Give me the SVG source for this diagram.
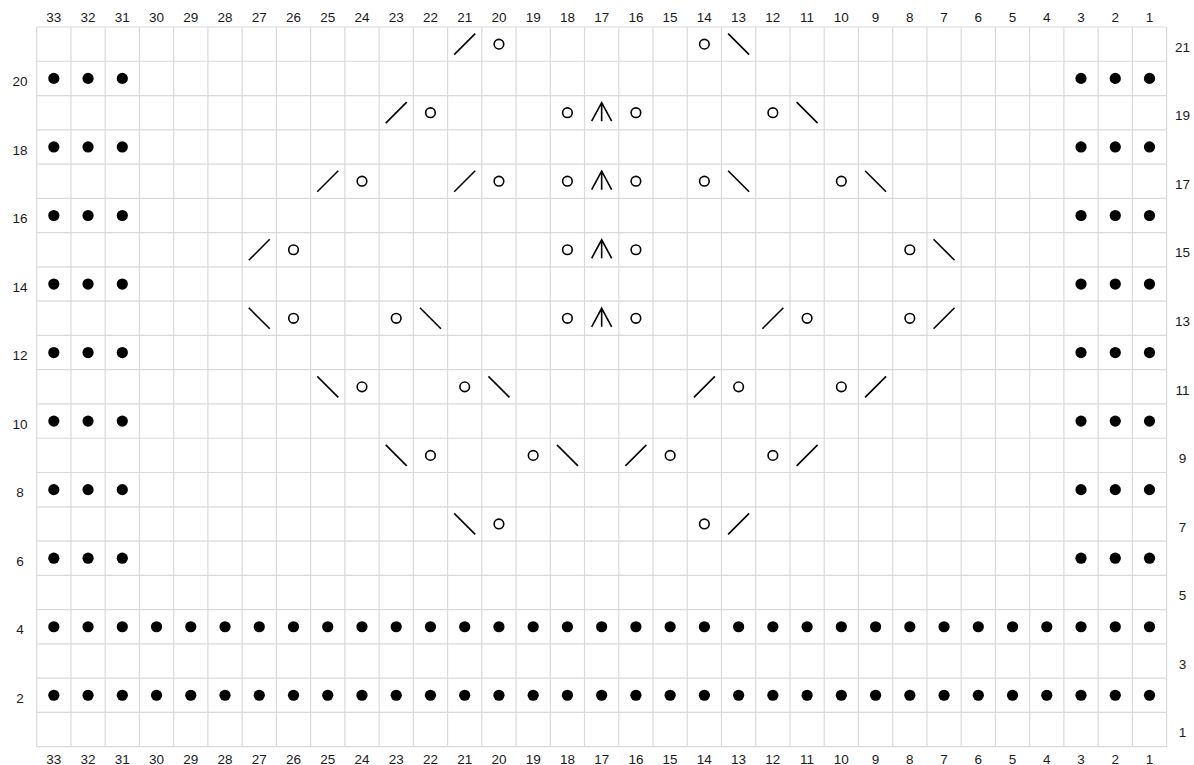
<svg xmlns="http://www.w3.org/2000/svg" xmlns:xlink="http://www.w3.org/1999/xlink" width="1194" height="765" viewBox="0 0 1194 765">
<style>
.grid{fill:none;stroke:#dadada;stroke-width:1.2}
.lbl{font-family:"Liberation Sans",Arial,sans-serif;font-size:13.5px;fill:#1a1a1a;text-anchor:middle}
.sym{fill:none;stroke:#000;stroke-width:1.6;stroke-linecap:butt}
.dot{fill:#000}
</style>
<defs>
<circle id="dot" class="dot" cx="0" cy="0" r="5.6"/>
<circle id="yo" class="sym" cx="0" cy="0" r="4.8"/>
<line id="k2tog" class="sym" x1="-10.5" y1="10.5" x2="10.5" y2="-10.5"/>
<line id="ssk" class="sym" x1="-10.5" y1="-10.5" x2="10.5" y2="10.5"/>
<path id="cdd" class="sym" d="M-10 8.5L0 -10L10 8.5M0 -10V8.5"/>
<g id="sides">
<use href="#dot" x="53.82"/><use href="#dot" x="88.06"/><use href="#dot" x="122.30"/>
<use href="#dot" x="1081.02"/><use href="#dot" x="1115.26"/><use href="#dot" x="1149.50"/>
</g>
<g id="fullrow">
<use href="#dot" x="53.82"/><use href="#dot" x="88.06"/><use href="#dot" x="122.30"/><use href="#dot" x="156.54"/><use href="#dot" x="190.78"/><use href="#dot" x="225.02"/><use href="#dot" x="259.26"/><use href="#dot" x="293.50"/><use href="#dot" x="327.74"/><use href="#dot" x="361.98"/><use href="#dot" x="396.22"/><use href="#dot" x="430.46"/><use href="#dot" x="464.70"/><use href="#dot" x="498.94"/><use href="#dot" x="533.18"/><use href="#dot" x="567.42"/><use href="#dot" x="601.66"/><use href="#dot" x="635.90"/><use href="#dot" x="670.14"/><use href="#dot" x="704.38"/><use href="#dot" x="738.62"/><use href="#dot" x="772.86"/><use href="#dot" x="807.10"/><use href="#dot" x="841.34"/><use href="#dot" x="875.58"/><use href="#dot" x="909.82"/><use href="#dot" x="944.06"/><use href="#dot" x="978.30"/><use href="#dot" x="1012.54"/><use href="#dot" x="1046.78"/><use href="#dot" x="1081.02"/><use href="#dot" x="1115.26"/><use href="#dot" x="1149.50"/>
</g>
</defs>
<rect width="1194" height="765" fill="#fff"/>
<g id="grid">
<path class="grid" d="M36.7 27V746.67M70.94 27V746.67M105.18 27V746.67M139.42 27V746.67M173.66 27V746.67M207.9 27V746.67M242.14 27V746.67M276.38 27V746.67M310.62 27V746.67M344.86 27V746.67M379.1 27V746.67M413.34 27V746.67M447.58 27V746.67M481.82 27V746.67M516.06 27V746.67M550.3 27V746.67M584.54 27V746.67M618.78 27V746.67M653.02 27V746.67M687.26 27V746.67M721.5 27V746.67M755.74 27V746.67M789.98 27V746.67M824.22 27V746.67M858.46 27V746.67M892.7 27V746.67M926.94 27V746.67M961.18 27V746.67M995.42 27V746.67M1029.66 27V746.67M1063.9 27V746.67M1098.14 27V746.67M1132.38 27V746.67M1166.62 27V746.67"/>
<path class="grid" d="M36.7 27H1166.62M36.7 61.27H1166.62M36.7 95.54H1166.62M36.7 129.81H1166.62M36.7 164.08H1166.62M36.7 198.35H1166.62M36.7 232.62H1166.62M36.7 266.89H1166.62M36.7 301.16H1166.62M36.7 335.43H1166.62M36.7 369.7H1166.62M36.7 403.97H1166.62M36.7 438.24H1166.62M36.7 472.51H1166.62M36.7 506.78H1166.62M36.7 541.05H1166.62M36.7 575.32H1166.62M36.7 609.59H1166.62M36.7 643.86H1166.62M36.7 678.13H1166.62M36.7 712.4H1166.62M36.7 746.67H1166.62"/>
</g>
<g id="col-labels-top" class="lbl">
<text x="53.82" y="21.5">33</text><text x="88.06" y="21.5">32</text><text x="122.30" y="21.5">31</text><text x="156.54" y="21.5">30</text><text x="190.78" y="21.5">29</text><text x="225.02" y="21.5">28</text><text x="259.26" y="21.5">27</text><text x="293.50" y="21.5">26</text><text x="327.74" y="21.5">25</text><text x="361.98" y="21.5">24</text><text x="396.22" y="21.5">23</text><text x="430.46" y="21.5">22</text><text x="464.70" y="21.5">21</text><text x="498.94" y="21.5">20</text><text x="533.18" y="21.5">19</text><text x="567.42" y="21.5">18</text><text x="601.66" y="21.5">17</text><text x="635.90" y="21.5">16</text><text x="670.14" y="21.5">15</text><text x="704.38" y="21.5">14</text><text x="738.62" y="21.5">13</text><text x="772.86" y="21.5">12</text><text x="807.10" y="21.5">11</text><text x="841.34" y="21.5">10</text><text x="875.58" y="21.5">9</text><text x="909.82" y="21.5">8</text><text x="944.06" y="21.5">7</text><text x="978.30" y="21.5">6</text><text x="1012.54" y="21.5">5</text><text x="1046.78" y="21.5">4</text><text x="1081.02" y="21.5">3</text><text x="1115.26" y="21.5">2</text><text x="1149.50" y="21.5">1</text>
</g>
<g id="col-labels-bottom" class="lbl">
<text x="53.82" y="763.5">33</text><text x="88.06" y="763.5">32</text><text x="122.30" y="763.5">31</text><text x="156.54" y="763.5">30</text><text x="190.78" y="763.5">29</text><text x="225.02" y="763.5">28</text><text x="259.26" y="763.5">27</text><text x="293.50" y="763.5">26</text><text x="327.74" y="763.5">25</text><text x="361.98" y="763.5">24</text><text x="396.22" y="763.5">23</text><text x="430.46" y="763.5">22</text><text x="464.70" y="763.5">21</text><text x="498.94" y="763.5">20</text><text x="533.18" y="763.5">19</text><text x="567.42" y="763.5">18</text><text x="601.66" y="763.5">17</text><text x="635.90" y="763.5">16</text><text x="670.14" y="763.5">15</text><text x="704.38" y="763.5">14</text><text x="738.62" y="763.5">13</text><text x="772.86" y="763.5">12</text><text x="807.10" y="763.5">11</text><text x="841.34" y="763.5">10</text><text x="875.58" y="763.5">9</text><text x="909.82" y="763.5">8</text><text x="944.06" y="763.5">7</text><text x="978.30" y="763.5">6</text><text x="1012.54" y="763.5">5</text><text x="1046.78" y="763.5">4</text><text x="1081.02" y="763.5">3</text><text x="1115.26" y="763.5">2</text><text x="1149.50" y="763.5">1</text>
</g>
<g id="row-labels-left" class="lbl">
<text x="20" y="86.11">20</text><text x="20" y="154.65">18</text><text x="20" y="223.19">16</text><text x="20" y="291.73">14</text><text x="20" y="360.27">12</text><text x="20" y="428.81">10</text><text x="20" y="497.35">8</text><text x="20" y="565.89">6</text><text x="20" y="634.43">4</text><text x="20" y="702.97">2</text>
</g>
<g id="row-labels-right" class="lbl">
<text x="1182.5" y="51.84">21</text><text x="1182.5" y="120.38">19</text><text x="1182.5" y="188.92">17</text><text x="1182.5" y="257.46">15</text><text x="1182.5" y="326.0">13</text><text x="1182.5" y="394.54">11</text><text x="1182.5" y="463.08">9</text><text x="1182.5" y="531.62">7</text><text x="1182.5" y="600.16">5</text><text x="1182.5" y="668.7">3</text><text x="1182.5" y="737.24">1</text>
</g>
<g id="row-21">
<use href="#k2tog" x="464.70" y="44.14"/><use href="#yo" x="498.94" y="44.14"/><use href="#yo" x="704.38" y="44.14"/><use href="#ssk" x="738.62" y="44.14"/>
</g>
<g id="row-20"><use href="#sides" y="78.41"/></g>
<g id="row-19">
<use href="#k2tog" x="396.22" y="112.68"/><use href="#yo" x="430.46" y="112.68"/><use href="#yo" x="567.42" y="112.68"/><use href="#cdd" x="601.66" y="112.68"/><use href="#yo" x="635.90" y="112.68"/><use href="#yo" x="772.86" y="112.68"/><use href="#ssk" x="807.10" y="112.68"/>
</g>
<g id="row-18"><use href="#sides" y="146.95"/></g>
<g id="row-17">
<use href="#k2tog" x="327.74" y="181.22"/><use href="#yo" x="361.98" y="181.22"/><use href="#k2tog" x="464.70" y="181.22"/><use href="#yo" x="498.94" y="181.22"/><use href="#yo" x="567.42" y="181.22"/><use href="#cdd" x="601.66" y="181.22"/><use href="#yo" x="635.90" y="181.22"/><use href="#yo" x="704.38" y="181.22"/><use href="#ssk" x="738.62" y="181.22"/><use href="#yo" x="841.34" y="181.22"/><use href="#ssk" x="875.58" y="181.22"/>
</g>
<g id="row-16"><use href="#sides" y="215.49"/></g>
<g id="row-15">
<use href="#k2tog" x="259.26" y="249.76"/><use href="#yo" x="293.50" y="249.76"/><use href="#yo" x="567.42" y="249.76"/><use href="#cdd" x="601.66" y="249.76"/><use href="#yo" x="635.90" y="249.76"/><use href="#yo" x="909.82" y="249.76"/><use href="#ssk" x="944.06" y="249.76"/>
</g>
<g id="row-14"><use href="#sides" y="284.03"/></g>
<g id="row-13">
<use href="#ssk" x="259.26" y="318.30"/><use href="#yo" x="293.50" y="318.30"/><use href="#yo" x="396.22" y="318.30"/><use href="#ssk" x="430.46" y="318.30"/><use href="#yo" x="567.42" y="318.30"/><use href="#cdd" x="601.66" y="318.30"/><use href="#yo" x="635.90" y="318.30"/><use href="#k2tog" x="772.86" y="318.30"/><use href="#yo" x="807.10" y="318.30"/><use href="#yo" x="909.82" y="318.30"/><use href="#k2tog" x="944.06" y="318.30"/>
</g>
<g id="row-12"><use href="#sides" y="352.57"/></g>
<g id="row-11">
<use href="#ssk" x="327.74" y="386.84"/><use href="#yo" x="361.98" y="386.84"/><use href="#yo" x="464.70" y="386.84"/><use href="#ssk" x="498.94" y="386.84"/><use href="#k2tog" x="704.38" y="386.84"/><use href="#yo" x="738.62" y="386.84"/><use href="#yo" x="841.34" y="386.84"/><use href="#k2tog" x="875.58" y="386.84"/>
</g>
<g id="row-10"><use href="#sides" y="421.11"/></g>
<g id="row-9">
<use href="#ssk" x="396.22" y="455.38"/><use href="#yo" x="430.46" y="455.38"/><use href="#yo" x="533.18" y="455.38"/><use href="#ssk" x="567.42" y="455.38"/><use href="#k2tog" x="635.90" y="455.38"/><use href="#yo" x="670.14" y="455.38"/><use href="#yo" x="772.86" y="455.38"/><use href="#k2tog" x="807.10" y="455.38"/>
</g>
<g id="row-8"><use href="#sides" y="489.65"/></g>
<g id="row-7">
<use href="#ssk" x="464.70" y="523.92"/><use href="#yo" x="498.94" y="523.92"/><use href="#yo" x="704.38" y="523.92"/><use href="#k2tog" x="738.62" y="523.92"/>
</g>
<g id="row-6"><use href="#sides" y="558.19"/></g>
<g id="row-4"><use href="#fullrow" y="626.73"/></g>
<g id="row-2"><use href="#fullrow" y="695.27"/></g>
</svg>
